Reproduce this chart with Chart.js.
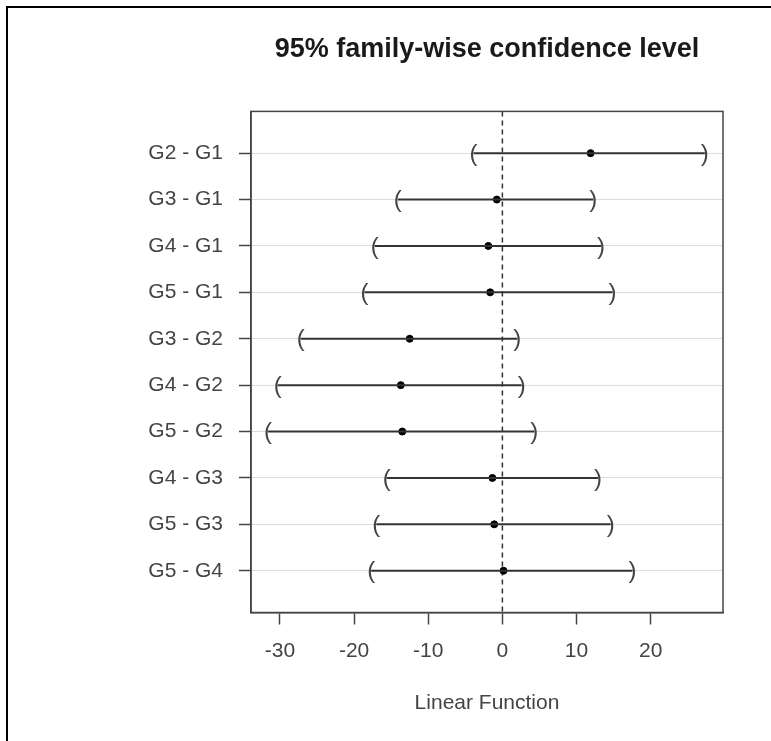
<!DOCTYPE html>
<html>
<head>
<meta charset="utf-8">
<title>95% family-wise confidence level</title>
<script src="https://cdn.jsdelivr.net/npm/chart.js@4.4.0/dist/chart.umd.min.js"></script>
<style>
  html, body { margin: 0; padding: 0; background: #fff; }
  #wrap { position: relative; width: 771px; height: 741px; }
  #frame {
    position: absolute; left: 6px; top: 6px; right: 0; bottom: 0;
    border-left: 2px solid #000; border-top: 2px solid #000;
    pointer-events: none;
  }
</style>
</head>
<body>
<div id="wrap">
  <canvas id="tukeyChart" width="771" height="741"></canvas>
  <div id="frame"></div>
</div>
<script>
// Data
const comparisons = ['G2 - G1', 'G3 - G1', 'G4 - G1', 'G5 - G1', 'G3 - G2',
                     'G4 - G2', 'G5 - G2', 'G4 - G3', 'G5 - G3', 'G5 - G4'];
const diffValues  = [11.9, -0.75, -1.9, -1.65, -12.5, -13.7, -13.5, -1.35, -1.1, 0.15];
const lowerValues = [-3.9, -14.1, -17.2, -18.6, -27.2, -30.3, -31.6, -15.6, -17.0, -17.7];
const upperValues = [27.3, 12.25, 13.3, 14.85, 2.0, 2.6, 4.3, 12.9, 14.6, 17.55];
const xTicks = [-30, -20, -10, 0, 10, 20];

const FONT = '"Liberation Sans", Arial, sans-serif';
const AXIS = '#444';

// Box around the plot, dashed zero line and the ( ) end marks
const tukeyPlugin = {
    id: 'tukey',
    beforeDatasetsDraw(chart) {
        const { ctx, chartArea, scales: { x } } = chart;
        const px = x.getPixelForValue(0);
        ctx.save();
        ctx.strokeStyle = '#333';
        ctx.lineWidth = 1.5;
        ctx.setLineDash([5, 4]);
        ctx.beginPath();
        ctx.moveTo(px, chartArea.top);
        ctx.lineTo(px, chartArea.bottom);
        ctx.stroke();
        ctx.restore();
    },
    afterDatasetsDraw(chart) {
        const { ctx, chartArea, scales: { x, y } } = chart;
        ctx.save();
        ctx.font = '24px ' + FONT;
        ctx.fillStyle = AXIS;
        ctx.textAlign = 'center';
        ctx.textBaseline = 'middle';
        comparisons.forEach((c, i) => {
            const py = y.getPixelForValue(i + 1) + 1;
            ctx.fillText('(', x.getPixelForValue(lowerValues[i]), py);
            ctx.fillText(')', x.getPixelForValue(upperValues[i]), py);
        });
        ctx.strokeStyle = AXIS;
        ctx.lineWidth = 1.5;
        ctx.strokeRect(chartArea.left, chartArea.top,
                       chartArea.right - chartArea.left, chartArea.bottom - chartArea.top);
        ctx.restore();
    }
};

const ctx = document.getElementById('tukeyChart').getContext('2d');
const chart = new Chart(ctx, {
    type: 'scatter',
    data: {
        datasets: [
            ...comparisons.map((c, i) => ({
                type: 'line',
                label: c,
                data: [{ x: lowerValues[i], y: i + 1 }, { x: upperValues[i], y: i + 1 }],
                borderColor: '#333',
                borderWidth: 2,
                pointRadius: 0,
                fill: false
            })),
            {
                type: 'scatter',
                label: 'diff',
                data: diffValues.map((v, i) => ({ x: v, y: i + 1 })),
                pointRadius: 3.5,
                backgroundColor: '#000',
                borderColor: '#000'
            }
        ]
    },
    options: {
        responsive: false,
        animation: false,
        layout: { padding: { left: 0, right: 48, top: 0, bottom: 0 } },
        plugins: {
            legend: { display: false },
            tooltip: { enabled: false },
            title: {
                display: true,
                fullSize: false,
                text: '95% family-wise confidence level',
                color: '#1a1a1a',
                font: { family: FONT, size: 27, weight: 'bold' },
                padding: { top: 33, bottom: 46 }
            }
        },
        scales: {
            x: {
                type: 'linear',
                position: 'bottom',
                min: -33.9,
                max: 29.75,
                afterBuildTicks: s => { s.ticks = xTicks.map(v => ({ value: v })); },
                afterFit: s => { s.height = 128.5; },
                grid: { drawOnChartArea: false, tickLength: 12, tickColor: AXIS, tickWidth: 1.5 },
                border: { color: AXIS, width: 1.5 },
                ticks: { color: AXIS, font: { family: FONT, size: 21 }, padding: 14 },
                title: {
                    display: true,
                    text: 'Linear Function',
                    color: AXIS,
                    font: { family: FONT, size: 21 },
                    padding: { top: 0, bottom: 25 }
                }
            },
            y: {
                type: 'linear',
                reverse: true,
                min: 0.1,
                max: 10.9,
                afterBuildTicks: s => { s.ticks = comparisons.map((c, i) => ({ value: i + 1 })); },
                afterFit: s => { s.width = 251; },
                grid: { color: '#dcdcdc', lineWidth: 1, tickLength: 12, tickColor: AXIS, tickWidth: 1.5 },
                border: { color: AXIS, width: 1.5 },
                ticks: {
                    autoSkip: false,
                    color: AXIS,
                    font: { family: FONT, size: 21 },
                    padding: 16,
                    callback: v => comparisons[v - 1]
                }
            }
        }
    },
    plugins: [tukeyPlugin]
});
</script>
</body>
</html>
